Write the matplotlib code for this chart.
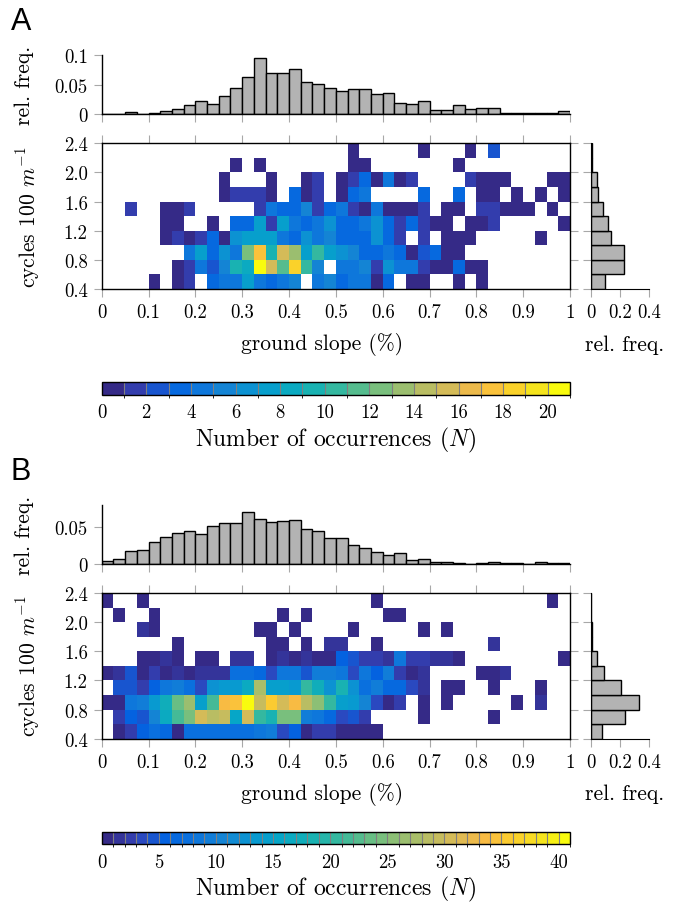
import numpy as np
import matplotlib
matplotlib.use("Agg")
import matplotlib.pyplot as plt
from matplotlib.colors import ListedColormap, BoundaryNorm, LinearSegmentedColormap
from matplotlib.cm import ScalarMappable

plt.rcParams['font.family'] = ['cmr10', 'DejaVu Serif']
plt.rcParams['mathtext.fontset'] = 'cm'
plt.rcParams['axes.formatter.use_mathtext'] = True

# ---------------- data ----------------
slope_edges = np.linspace(0.0, 1.0, 41)
freq_edges = np.linspace(0.4, 2.4, 11)
slope_ticks = [0, 0.1, 0.2, 0.3, 0.4, 0.5, 0.6, 0.7, 0.8, 0.9, 1.0]
slope_ticklabels = ['0', '0.1', '0.2', '0.3', '0.4', '0.5', '0.6', '0.7', '0.8', '0.9', '1']
freq_ticks = [0.4, 0.8, 1.2, 1.6, 2.0, 2.4]
freq_ticklabels = ['0.4', '0.8', '1.2', '1.6', '2.0', '2.4']
side_ticks = [0, 0.2, 0.4]
side_ticklabels = ['0', '0.2', '0.4']

# Panel A
top_hist_A = [0, 0, 0.003, 0, 0.002, 0.005, 0.009, 0.015, 0.022, 0.017,
              0.030, 0.044, 0.0625, 0.095, 0.070, 0.070, 0.077, 0.054, 0.051, 0.045,
              0.039, 0.042, 0.043, 0.034, 0.036, 0.019, 0.0165, 0.022, 0.007, 0.007,
              0.015, 0.0085, 0.0097, 0.011, 0.002, 0.002, 0.001, 0.002, 0.002, 0.0045]
side_hist_A = [0.100, 0.225, 0.225, 0.139, 0.118, 0.084, 0.050, 0.043, 0.011, 0.011]  # 0.4 -> 2.4
counts_A = [  # rows from 2.4 (top) down to 0.4 (bottom), 40 slope bins each
    [0,0,0,0,0,0,0,0,0,0, 0,0,0,0,0,0,0,0,0,0, 0,1,0,0,0,0,0,1,0,0, 0,1,0,3,0,0,0,0,0,0],
    [0,0,0,0,0,0,0,0,0,0, 0,1,0,1,0,0,0,0,0,0, 0,1,1,0,0,0,0,0,0,0, 1,0,0,0,0,0,0,0,0,0],
    [0,0,0,0,0,0,0,0,0,0, 1,0,0,0,1,0,0,1,2,0, 1,2,4,1,5,1,2,0,0,0, 0,2,1,1,1,0,0,0,1,1],
    [0,0,0,0,0,0,0,0,0,0, 1,2,2,2,1,0,4,1,2,0, 1,4,5,0,0,0,0,4,0,0, 4,0,1,1,0,1,0,1,0,1],
    [0,0,2,0,0,1,1,2,0,0, 0,0,0,2,5,4,4,6,2,4, 5,2,1,5,1,1,1,2,0,1, 1,0,2,2,1,1,1,0,1,0],
    [0,0,0,0,0,1,1,0,0,1, 0,4,4,8,2,8,5,4,5,7, 4,4,5,7,4,2,4,2,1,1, 0,1,1,2,0,0,0,0,0,1],
    [0,0,0,0,0,1,2,1,2,4, 1,7,8,8,8,5,4,7,5,6, 4,4,4,7,4,2,0,2,0,1, 1,1,0,0,0,0,0,1,0,0],
    [0,0,0,0,0,0,0,5,8,4, 7,5,13,18,10,16,14,8,11,8, 7,6,4,4,5,4,1,3,4,1, 1,0,0,0,0,0,0,0,0,0],
    [0,0,0,0,0,0,1,2,5,3, 6,10,9,21,16,12,19,11,6,0, 5,5,6,2,7,5,5,2,1,1, 4,1,1,0,0,0,0,0,0,0],
    [0,0,0,0,1,0,1,2,0,4, 5,5,8,5,4,5,6,0,5,6, 4,5,5,1,4,0,1,1,0,0, 1,0,1,0,0,0,0,0,0,0],
]
cbar_ticks_A = [0, 2, 4, 6, 8, 10, 12, 14, 16, 18, 20]
levels_A = 21
top_ylim_A = 0.1
top_yticks_A = [0, 0.05, 0.1]
top_yticklabels_A = ['0', '0.05', '0.1']

# Panel B
top_hist_B = [0.003, 0.007, 0.017, 0.019, 0.030, 0.037, 0.042, 0.044, 0.041, 0.051,
              0.0555, 0.0555, 0.0706, 0.0615, 0.057, 0.058, 0.060, 0.047, 0.044, 0.035,
              0.035, 0.025, 0.0215, 0.0165, 0.012, 0.0147, 0.0046, 0.0064, 0.0018, 0.0028,
              0.001, 0, 0.0005, 0.0028, 0.001, 0.0005, 0, 0.0018, 0.0005, 0.0005]
side_hist_B = [0.075, 0.234, 0.330, 0.205, 0.093, 0.041, 0.011, 0.007, 0.005, 0.002]  # 0.4 -> 2.4
counts_B = [  # rows from 2.4 (top) down to 0.4 (bottom)
    [1,0,0,1,0,0,0,0,0,0, 0,0,0,0,0,0,0,0,0,0, 0,0,0,1,0,0,0,0,0,0, 0,0,0,0,0,0,0,0,1,0],
    [0,1,0,0,1,0,0,0,0,0, 0,0,0,0,0,1,0,1,0,0, 0,0,0,0,1,1,0,0,0,0, 0,0,0,0,0,0,0,0,0,0],
    [0,0,0,2,1,0,0,0,0,0, 0,0,0,1,1,0,1,0,0,0, 0,1,0,0,0,0,0,1,0,1, 0,0,0,0,0,0,0,0,0,0],
    [0,0,0,0,0,0,1,0,0,0, 0,0,0,0,1,1,0,1,0,2, 2,0,0,1,0,0,0,0,0,0, 0,0,0,2,0,0,0,0,0,0],
    [0,0,0,1,1,2,1,0,1,1, 0,2,2,0,1,2,1,2,1,1, 6,5,3,3,2,9,3,3,2,2, 1,0,0,0,0,0,0,0,0,1],
    [1,2,5,1,3,1,2,1,2,2, 2,8,8,7,4,9,9,5,10,10, 9,4,9,6,10,3,1,2,0,0, 0,0,1,1,2,0,0,0,0,0],
    [0,5,5,3,6,9,10,8,4,13, 14,14,17,28,15,15,14,21,18,13, 19,13,8,10,7,7,4,2,0,1, 1,0,0,1,0,0,0,1,0,0],
    [1,1,9,10,14,18,24,27,15,22, 34,35,41,30,36,31,34,29,26,21, 15,14,11,4,1,3,0,1,0,1, 0,0,0,0,0,1,0,2,0,0],
    [0,3,6,5,11,17,22,25,31,29, 30,16,31,21,19,25,25,10,9,7, 4,5,3,0,0,0,0,1,0,0, 0,0,0,1,0,0,0,0,0,0],
    [0,1,3,6,8,7,1,8,8,8, 8,8,8,9,10,4,6,1,3,3, 1,1,1,1,0,0,0,0,0,0, 0,0,0,0,0,0,0,0,0,0],
]
cbar_ticks_B = [0, 5, 10, 15, 20, 25, 30, 35, 40]
levels_B = 41
top_ylim_B = 0.08
top_yticks_B = [0, 0.05]
top_yticklabels_B = ['0', '0.05']

# ---------------- style ----------------
_parula_anchors = [
    [0.2081, 0.1663, 0.5292], [0.1959, 0.2645, 0.7279], [0.0117, 0.3875, 0.8820],
    [0.0498, 0.4586, 0.8641], [0.0793, 0.5200, 0.8312], [0.0343, 0.5966, 0.8199],
    [0.0228, 0.6535, 0.7768], [0.0843, 0.6928, 0.7062], [0.2178, 0.7250, 0.6193],
    [0.3953, 0.7459, 0.5244], [0.5709, 0.7485, 0.4494], [0.7184, 0.7411, 0.3905],
    [0.8507, 0.7299, 0.3360], [0.9739, 0.7314, 0.2666], [0.9880, 0.8066, 0.1794],
    [0.9589, 0.8949, 0.1132], [0.9763, 0.9831, 0.0538]]
_pos = [i / 63 for i in range(0, 61, 4)] + [1.0]
parula = LinearSegmentedColormap.from_list('parula', list(zip(_pos, _parula_anchors)))

BAR_FC = '#b3b3b3'
TICK_C = '#a8a8a8'
TICK_FS = 13.5
LAB_FS = 15.5
CB_LAB_FS = 17
W, H = 674, 903

fig = plt.figure(figsize=(W / 100, H / 100), dpi=100)


def add_ax(x0, y0, x1, y1):
    return fig.add_axes([x0 / W, 1 - y1 / H, (x1 - x0) / W, (y1 - y0) / H])


def style_ticks(ax, **kw):
    ax.tick_params(direction='out', length=6, width=0.8, color=TICK_C,
                   labelsize=TICK_FS, pad=4, **kw)


def panel(dy, top_hist, side_hist, counts, levels, cbar_ticks,
          top_ylim, top_yticks, top_yticklabels, letter):
    xl, xr = 101.7, 570.0
    # top histogram
    axt = add_ax(xl, 56.3 + dy, xr, 115.0 + dy)
    centers = (slope_edges[:-1] + slope_edges[1:]) / 2
    axt.bar(centers, top_hist, width=np.diff(slope_edges), color=BAR_FC,
            edgecolor='black', linewidth=1.0)
    axt.set_xlim(0, 1)
    axt.set_ylim(0, top_ylim)
    axt.set_xticks(slope_ticks)
    axt.set_xticklabels([])
    axt.set_yticks(top_yticks)
    axt.set_yticklabels(top_yticklabels)
    for s in ['top', 'right']:
        axt.spines[s].set_visible(False)
    for s in ['left', 'bottom']:
        axt.spines[s].set_linewidth(1.0)
    style_ticks(axt)

    # heatmap
    axh = add_ax(xl, 144.3 + dy, xr, 290.0 + dy)
    colors = parula(np.linspace(0, 1, levels))
    cmap = ListedColormap(colors)
    norm_cells = BoundaryNorm(np.arange(0.5, levels + 1.5, 1.0), levels)
    grid = np.flipud(np.array(counts, dtype=float))
    grid = np.ma.masked_where(grid <= 0, grid)
    axh.pcolormesh(slope_edges, freq_edges, grid, cmap=cmap, norm=norm_cells)
    axh.set_xlim(0, 1)
    axh.set_ylim(0.4, 2.4)
    axh.set_xticks(slope_ticks)
    axh.set_xticklabels(slope_ticklabels)
    axh.set_yticks(freq_ticks)
    axh.set_yticklabels(freq_ticklabels)
    for s in axh.spines.values():
        s.set_linewidth(1.0)
    style_ticks(axh, top=True, right=True)

    # side histogram
    axs = add_ax(590.7, 144.3 + dy, 649.3, 290.0 + dy)
    fcent = (freq_edges[:-1] + freq_edges[1:]) / 2
    axs.barh(fcent, side_hist, height=np.diff(freq_edges), color=BAR_FC,
             edgecolor='black', linewidth=1.0)
    axs.set_xlim(0, 0.4)
    axs.set_ylim(0.4, 2.4)
    axs.set_xticks(side_ticks)
    axs.set_xticklabels(side_ticklabels)
    axs.set_yticks(freq_ticks)
    axs.set_yticklabels([])
    for s in ['top', 'right']:
        axs.spines[s].set_visible(False)
    style_ticks(axs)

    # colorbar
    axc = add_ax(xl, 383.3 + dy, xr, 395.7 + dy)
    norm_cb = BoundaryNorm(np.arange(0, levels + 1), levels)
    cb = fig.colorbar(ScalarMappable(norm=norm_cb, cmap=cmap), cax=axc,
                      orientation='horizontal', ticks=cbar_ticks, drawedges=True)
    cb.outline.set_linewidth(1.0)
    cb.dividers.set_color('#808080')
    cb.dividers.set_linewidth(0.8)
    axc.tick_params(length=0, labelsize=TICK_FS, pad=6)
    axc.set_xticklabels([str(t) for t in cbar_ticks])

    # labels
    fig.text(24 / W, 1 - (85.6 + dy) / H, 'rel. freq.', rotation=90,
             ha='center', va='center', fontsize=LAB_FS)
    fig.text(28 / W, 1 - (217 + dy) / H, r'cycles 100 $m^{-1}$', rotation=90,
             ha='center', va='center', fontsize=LAB_FS)
    fig.text(322 / W, 1 - (345 + dy) / H, 'ground slope (%)',
             ha='center', va='center', fontsize=LAB_FS)
    fig.text(625 / W, 1 - (345 + dy) / H, 'rel. freq.',
             ha='center', va='center', fontsize=LAB_FS)
    fig.text(335.8 / W, 1 - (440 + dy) / H, r'Number of occurrences ($N$)',
             ha='center', va='center', fontsize=CB_LAB_FS)
    fig.text(21 / W, 1 - (22 + dy) / H, letter, ha='center', va='center',
             fontsize=22, family='Liberation Sans')


panel(0, top_hist_A, side_hist_A, counts_A, levels_A, cbar_ticks_A,
      top_ylim_A, top_yticks_A, top_yticklabels_A, 'A')
panel(449.7, top_hist_B, side_hist_B, counts_B, levels_B, cbar_ticks_B,
      top_ylim_B, top_yticks_B, top_yticklabels_B, 'B')

fig.savefig('out.png', dpi=100, facecolor='white')
